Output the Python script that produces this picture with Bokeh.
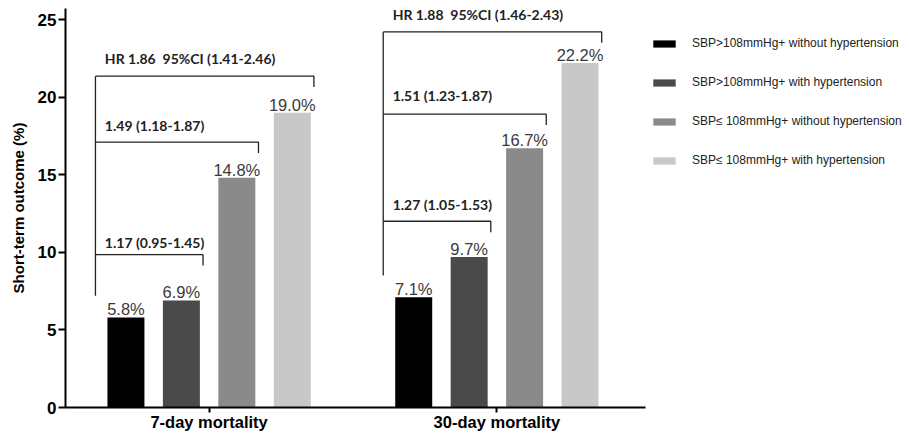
from bokeh.plotting import figure
from bokeh.models import ColumnDataSource, Range1d, FixedTicker, Legend, LegendItem
from bokeh.core.properties import value
from bokeh.embed import file_html
from bokeh.resources import INLINE

# ---------------- data ----------------
groups = ["7-day mortality", "30-day mortality"]
series = [
    "SBP>108mmHg+ without hypertension",
    "SBP>108mmHg+ with hypertension",
    "SBP\u2264 108mmHg+ without hypertension",
    "SBP\u2264 108mmHg+ with hypertension",
]
colors = ["#000000", "#4a4a4a", "#8a8a8a", "#c8c8c8"]
values_7day = [5.8, 6.9, 14.8, 19.0]
values_30day = [7.1, 9.7, 16.7, 22.2]
y_ticks = [0, 5, 10, 15, 20, 25]

bracket_labels_7day = ["1.17 (0.95-1.45)", "1.49 (1.18-1.87)", "HR 1.86\u00a0 95%CI (1.41-2.46)"]
bracket_levels_7day = [9.85, 17.1, 21.35]
bracket_label_y_7day = [10.6, 18.2, 22.5]
bracket_base_7day = 7.2

bracket_labels_30day = ["1.27 (1.05-1.53)", "1.51 (1.23-1.87)", "HR 1.88\u00a0 95%CI (1.46-2.43)"]
bracket_levels_30day = [12.0, 18.9, 24.2]
bracket_label_y_30day = [13.1, 20.1, 25.3]
bracket_base_30day = 8.5

# ---------------- layout constants ----------------
GROUP_STEP = 5.19
BAR_W = 0.667
group_centers = [i * GROUP_STEP for i in range(len(groups))]
group_values = [values_7day, values_30day]

p = figure(
    frame_width=580, frame_height=399,
    x_range=Range1d(-2.59, 7.87), y_range=Range1d(0, 25.71),
    output_backend="svg", toolbar_location=None,
    min_border_left=65, min_border_top=8, min_border_bottom=0, min_border_right=0,
)
p.outline_line_color = None
p.xgrid.visible = False
p.ygrid.visible = False
p.background_fill_color = "white"

renderers = []
for j in range(len(series)):
    xs = [c + (j - 1.5) for c in group_centers]
    tops = [gv[j] for gv in group_values]
    src = ColumnDataSource(dict(x=xs, top=tops, lab=[f"{t:.1f}%" for t in tops]))
    r = p.vbar(x="x", top="top", width=BAR_W, source=src, fill_color=colors[j], line_color=None)
    renderers.append(r)
    p.text(x="x", y="top", text="lab", source=src, text_align="center", text_baseline="alphabetic",
           y_offset=-8, text_font=value("Liberation Sans"), text_font_size="16.5px", text_color="#3a3a3a")

# brackets
b_xs, b_ys = [], []
lab_x, lab_y, lab_t = [], [], []
all_levels = [bracket_levels_7day, bracket_levels_30day]
all_label_y = [bracket_label_y_7day, bracket_label_y_30day]
all_labels = [bracket_labels_7day, bracket_labels_30day]
all_bases = [bracket_base_7day, bracket_base_30day]
for g, c in enumerate(group_centers):
    left = c - 1.5 - 0.55
    top_level = max(all_levels[g])
    b_xs.append([left, left])
    b_ys.append([all_bases[g], top_level])
    for k, lvl in enumerate(all_levels[g]):
        right = c + (k + 1 - 1.5) + 0.39
        b_xs.append([left, right, right])
        b_ys.append([lvl, lvl, lvl - 0.7])
        lab_x.append(left + 0.17)
        lab_y.append(all_label_y[g][k])
        lab_t.append(all_labels[g][k])

p.multi_line(xs=b_xs, ys=b_ys, line_color="#222222", line_width=1.3)
p.text(x=lab_x, y=lab_y, text=lab_t, text_align="left", text_baseline="middle",
       text_font=value("Lato"), text_font_style="bold", text_font_size="14px", text_color="#222222")

# axes
for ax in (p.xaxis, p.yaxis):
    ax.axis_line_width = 2
    ax.axis_line_color = "black"
    ax.major_tick_line_width = 2
    ax.major_tick_line_color = "black"
    ax.minor_tick_line_color = None
    ax.major_tick_in = 0
    ax.major_label_text_font = "Liberation Sans"
    ax.major_label_text_font_style = "bold"
    ax.major_label_text_color = "black"

p.yaxis.ticker = FixedTicker(ticks=y_ticks)
p.yaxis.major_tick_out = 7
p.yaxis.major_label_standoff = 2
p.yaxis.major_label_text_font_size = "17px"
p.yaxis.axis_label = "Short-term outcome (%)"
p.yaxis.axis_label_text_font = "Liberation Sans"
p.yaxis.axis_label_text_font_style = "bold"
p.yaxis.axis_label_text_font_size = "15px"
p.yaxis.axis_label_text_color = "black"
p.yaxis.axis_label_standoff = 8

p.xaxis.ticker = FixedTicker(ticks=group_centers)
p.xaxis.major_label_overrides = {c: g for c, g in zip(group_centers, groups)}
p.xaxis.major_tick_out = 5
p.xaxis.major_label_standoff = 0
p.xaxis.major_label_text_font_size = "16.5px"

legend = Legend(
    items=[LegendItem(label=s, renderers=[r]) for s, r in zip(series, renderers)],
    location=(5, 237), orientation="vertical",
    glyph_width=28, glyph_height=9, label_height=20, spacing=19, label_standoff=14,
    padding=0, margin=5, border_line_color=None, background_fill_alpha=0,
    label_text_font="Liberation Sans", label_text_font_size="12px", label_text_color="#222222",
)
p.add_layout(legend, "right")

open("out.html", "w").write(file_html(p, INLINE))
